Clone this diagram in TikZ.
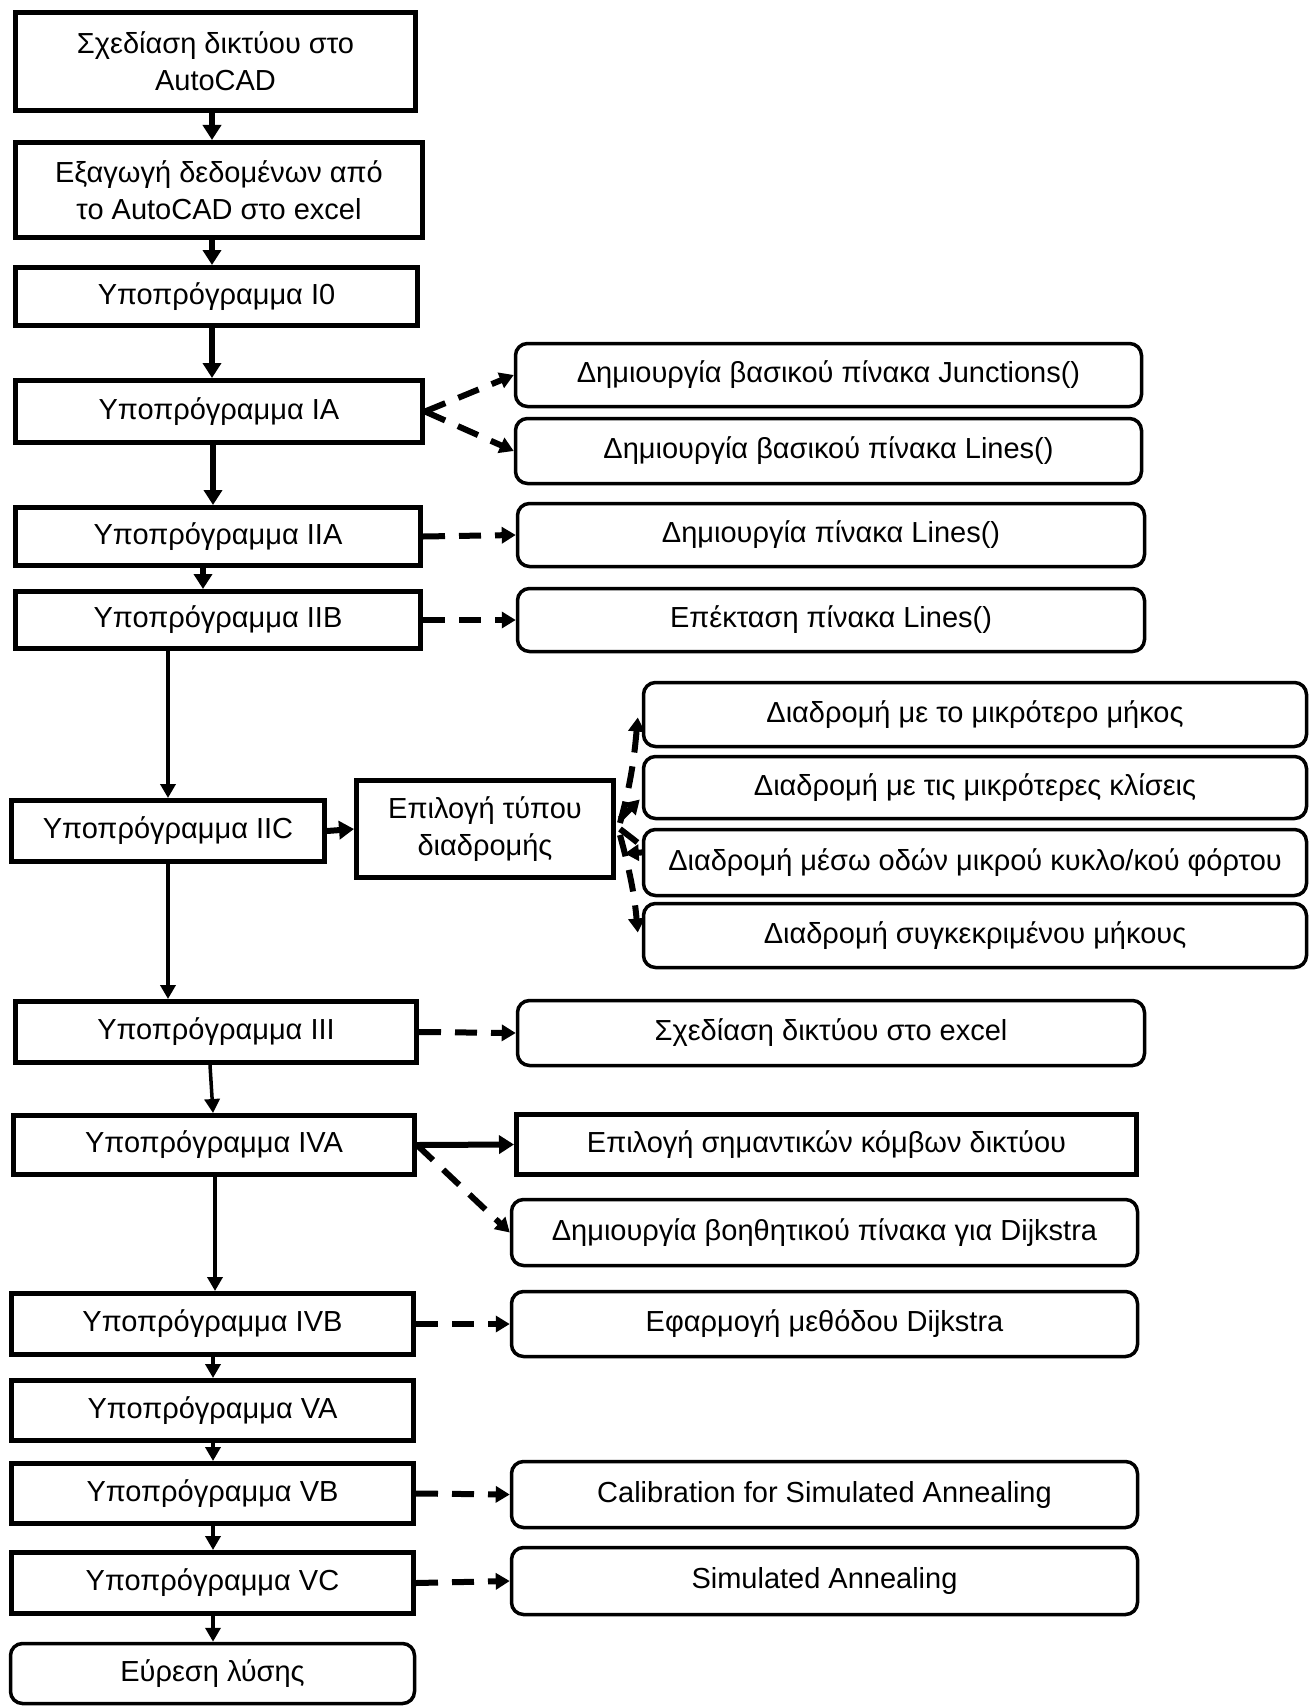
\documentclass[tikz,border=0pt]{standalone}
\usepackage{fontspec}
\setmainfont{Liberation Sans}
\usetikzlibrary{arrows.meta,calc}
\begin{document}
\begin{tikzpicture}[x=1pt,y=-1pt,
  txt/.style={font=\fontsize{29}{37}\selectfont, align=center, inner sep=0pt},
  lbox/.style={txt, draw, line width=5pt},
  rbox/.style={txt, draw, line width=3.5pt, rounded corners=12pt},
  flow/.style={line width=6pt, -{Triangle[length=15pt,width=18pt]}},
  flowthin/.style={line width=3.5pt, -{Triangle[length=14pt,width=15pt]}},
  dsh/.style={line width=6pt, dash pattern=on 22pt off 14pt, -{Triangle[length=14pt,width=16pt]}}]
\useasboundingbox[fill=white] (0,0) rectangle (1309,1707);

% left column
\node[lbox, minimum width=400pt, minimum height=98pt] (B1) at (215.5,61.5) {Σχεδίαση δικτύου στο\\AutoCAD};
\node[lbox, minimum width=407pt, minimum height=95pt] (B2) at (219,190) {Εξαγωγή δεδομένων από\\το AutoCAD στο excel};
\node[lbox, minimum width=402pt, minimum height=58pt] (B3) at (216.5,296.5) {Υποπρόγραμμα I0};
\node[lbox, minimum width=407pt, minimum height=62pt] (B4) at (219,411.5) {Υποπρόγραμμα IA};
\node[lbox, minimum width=405pt, minimum height=58pt] (B5) at (218,536.5) {Υποπρόγραμμα IIA};
\node[lbox, minimum width=405pt, minimum height=57pt] (B6) at (218,620) {Υποπρόγραμμα IIB};
\node[lbox, minimum width=313pt, minimum height=61pt] (B7) at (168,831) {Υποπρόγραμμα IIC};
\node[lbox, minimum width=257pt, minimum height=97pt] (B8) at (485,829) {Επιλογή τύπου\\διαδρομής};
\node[lbox, minimum width=401pt, minimum height=61pt] (B9) at (216,1032) {Υποπρόγραμμα III};
\node[lbox, minimum width=401pt, minimum height=59pt] (B10) at (214,1145) {Υποπρόγραμμα IVA};
\node[lbox, minimum width=402pt, minimum height=61pt] (B11) at (212.5,1324) {Υποπρόγραμμα IVB};
\node[lbox, minimum width=402pt, minimum height=60pt] (B12) at (212.5,1410.5) {Υποπρόγραμμα VA};
\node[lbox, minimum width=402pt, minimum height=60pt] (B13) at (212.5,1493.5) {Υποπρόγραμμα VB};
\node[lbox, minimum width=402pt, minimum height=61pt] (B14) at (212.5,1583) {Υποπρόγραμμα VC};
\node[rbox, minimum width=404pt, minimum height=60pt] (B15) at (212.5,1673.5) {Εύρεση λύσης};

% right column
\node[rbox, minimum width=626pt, minimum height=63pt] (R1) at (828.5,375) {Δημιουργία βασικού πίνακα Junctions()};
\node[rbox, minimum width=626pt, minimum height=65pt] (R2) at (828.5,451) {Δημιουργία βασικού πίνακα Lines()};
\node[rbox, minimum width=627pt, minimum height=63pt] (R3) at (831,535) {Δημιουργία πίνακα Lines()};
\node[rbox, minimum width=627pt, minimum height=63pt] (R4) at (831,620) {Επέκταση πίνακα Lines()};
\node[rbox, minimum width=663pt, minimum height=64pt] (R5) at (975,714.5) {Διαδρομή με το μικρότερο μήκος};
\node[rbox, minimum width=663pt, minimum height=62pt] (R6) at (975,787.5) {Διαδρομή με τις μικρότερες κλίσεις};
\node[rbox, minimum width=663pt, minimum height=66pt] (R7) at (975,862.5) {Διαδρομή μέσω οδών μικρού κυκλο/κού φόρτου};
\node[rbox, minimum width=663pt, minimum height=64pt] (R8) at (975,935.5) {Διαδρομή συγκεκριμένου μήκους};
\node[rbox, minimum width=627pt, minimum height=65pt] (R9) at (831,1033) {Σχεδίαση δικτύου στο excel};
\node[lbox, minimum width=620pt, minimum height=60pt] (R10) at (826.5,1144.5) {Επιλογή σημαντικών κόμβων δικτύου};
\node[rbox, minimum width=626pt, minimum height=66pt] (R11) at (824.5,1232.5) {Δημιουργία βοηθητικού πίνακα για Dijkstra};
\node[rbox, minimum width=626pt, minimum height=65pt] (R12) at (824.5,1324) {Εφαρμογή μεθόδου Dijkstra};
\node[rbox, minimum width=626pt, minimum height=66pt] (R13) at (824.5,1494.5) {Calibration for Simulated Annealing};
\node[rbox, minimum width=626pt, minimum height=67pt] (R14) at (824.5,1581) {Simulated Annealing};

% main flow
\coordinate (xa) at (212,0);
\coordinate (xb) at (213,0);
\coordinate (xc) at (203,0);
\coordinate (xd) at (215,0);
\draw[flow] (B1.south -| xa) -- (B2.north -| xa);
\draw[flow] (B2.south -| xa) -- (B3.north -| xa);
\draw[flow] (B3.south -| xa) -- (B4.north -| xa);
\draw[flow] (B4.south -| xb) -- (B5.north -| xb);
\draw[flow] (B5.south -| xc) -- (B6.north -| xc);
\draw[flowthin] (B6.south -| B7.north) -- (B7.north);
\draw[flow] (B7.east) -- (B8.west);
\draw[flowthin] (B7.south) -- (B7.south |- B9.north);
\draw[flowthin] ($(B9.south)+(-6,0)$) -- ($(B10.north)+(-1,0)$);
\draw[flowthin] (B10.south -| xd) -- (B11.north -| xd);
\draw[flowthin] (B11.south -| xb) -- (B12.north -| xb);
\draw[flowthin] (B12.south -| xb) -- (B13.north -| xb);
\draw[flowthin] (B13.south -| xb) -- (B14.north -| xb);
\draw[flowthin] (B14.south -| xb) -- (B15.north -| xb);

% side connectors
\draw[dsh] (B4.east) -- (R1.west);
\draw[dsh] (B4.east) -- (R2.west);
\draw[dsh] (B5.east) -- (R3.west);
\draw[dsh] (B6.east) -- (R4.west);
\draw[dsh] (B9.east) -- (R9.west);
\draw[flow] (B10.east) -- (R10.west);
\draw[dsh] (B10.east) -- (R11.west);
\draw[dsh] (B11.east) -- (R12.west);
\draw[dsh] (B13.east) -- (R13.west);
\draw[dsh] (B14.east) -- (R14.west);

% route type choices
\draw[dsh] ($(B8.east)+(4,-6)$) to[out=75,in=-95] ($(R5.west)+(-4,3)$);
\draw[dsh] ($(B8.east)+(4,-10)$) -- ($(R6.west)+(-2,12)$);
\draw[dsh] ($(B8.east)+(4,0)$) .. controls (650,852) .. ($(R7.west)+(-17,-9)$);
\draw[dsh] ($(B8.east)+(4,6)$) to[out=-75,in=95] ($(R8.west)+(-4,-3)$);
\end{tikzpicture}
\end{document}
